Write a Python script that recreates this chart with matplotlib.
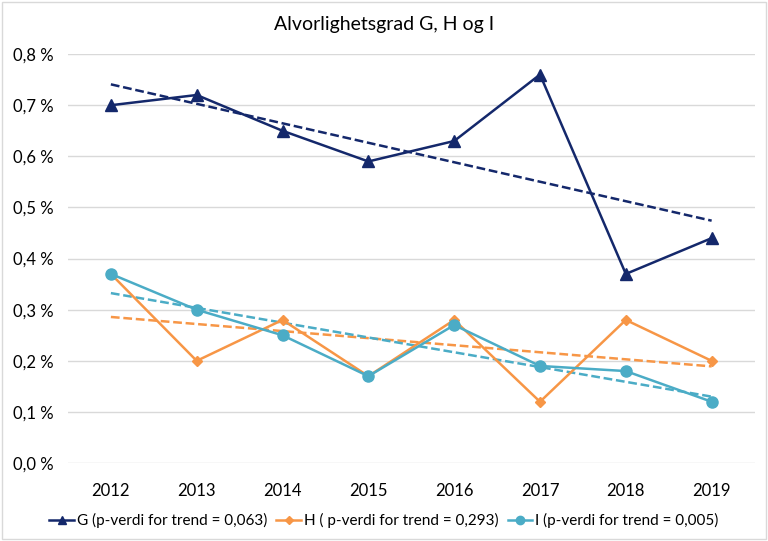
import numpy as np
import matplotlib.pyplot as plt
from matplotlib.patches import Rectangle

# data (percent)
years = ['2012', '2013', '2014', '2015', '2016', '2017', '2018', '2019']
g_vals = [0.70, 0.72, 0.65, 0.59, 0.63, 0.76, 0.37, 0.44]
h_vals = [0.37, 0.20, 0.28, 0.17, 0.28, 0.12, 0.28, 0.20]
i_vals = [0.37, 0.30, 0.25, 0.17, 0.27, 0.19, 0.18, 0.12]
labels = ['G (p-verdi for trend = 0,063)',
          'H ( p-verdi for trend = 0,293)',
          'I (p-verdi for trend = 0,005)']
yticks = [0.0, 0.1, 0.2, 0.3, 0.4, 0.5, 0.6, 0.7, 0.8]

plt.rcParams['font.family'] = ['Lato', 'DejaVu Sans']

fig = plt.figure(figsize=(7.68, 5.41), dpi=100)
ax = fig.add_axes([0.0885, 0.144, 0.894, 0.756])

x = np.arange(len(years))
series = [
    (g_vals, '#14286B', '^', 8),
    (h_vals, '#F79646', 'D', 5),
    (i_vals, '#4BACC6', 'o', 8),
]
for (vals, col, mk, ms), lab in zip(series, labels):
    ax.plot(x, vals, color=col, lw=1.8, marker=mk, markersize=ms, label=lab, zorder=3)
    # linear trend
    k, b = np.polyfit(x, vals, 1)
    ax.plot(x, k * x + b, color=col, lw=1.8, ls=(0, (3.5, 1.5)), zorder=2)

ax.set_xlim(-0.5, len(years) - 0.5)
ax.set_ylim(0, 0.8)
ax.set_xticks(x)
ax.set_xticklabels(years, fontsize=12)
ax.set_yticks(yticks)
ax.set_yticklabels([f'{v:.1f} %'.replace('.', ',') for v in yticks], fontsize=12)
ax.tick_params(length=0, pad=10)
ax.tick_params(axis='x', pad=14)
ax.grid(axis='y', color='#D9D9D9', lw=1)
ax.set_axisbelow(True)
for s in ax.spines.values():
    s.set_visible(False)

fig.text(0.5, 0.955, 'Alvorlighetsgrad G, H og I', ha='center', va='center', fontsize=14)

ax.legend(loc='center', bbox_to_anchor=(0.5, 0.038), bbox_transform=fig.transFigure,
          ncol=3, frameon=False, fontsize=11, handlelength=1.6, handletextpad=0.2,
          columnspacing=0.6, markerscale=0.75)

fig.patches.append(Rectangle((0.002, 0.003), 0.996, 0.994, transform=fig.transFigure,
                             fill=False, ec='#D9D9D9', lw=1))

fig.savefig('out.png', dpi=100)
